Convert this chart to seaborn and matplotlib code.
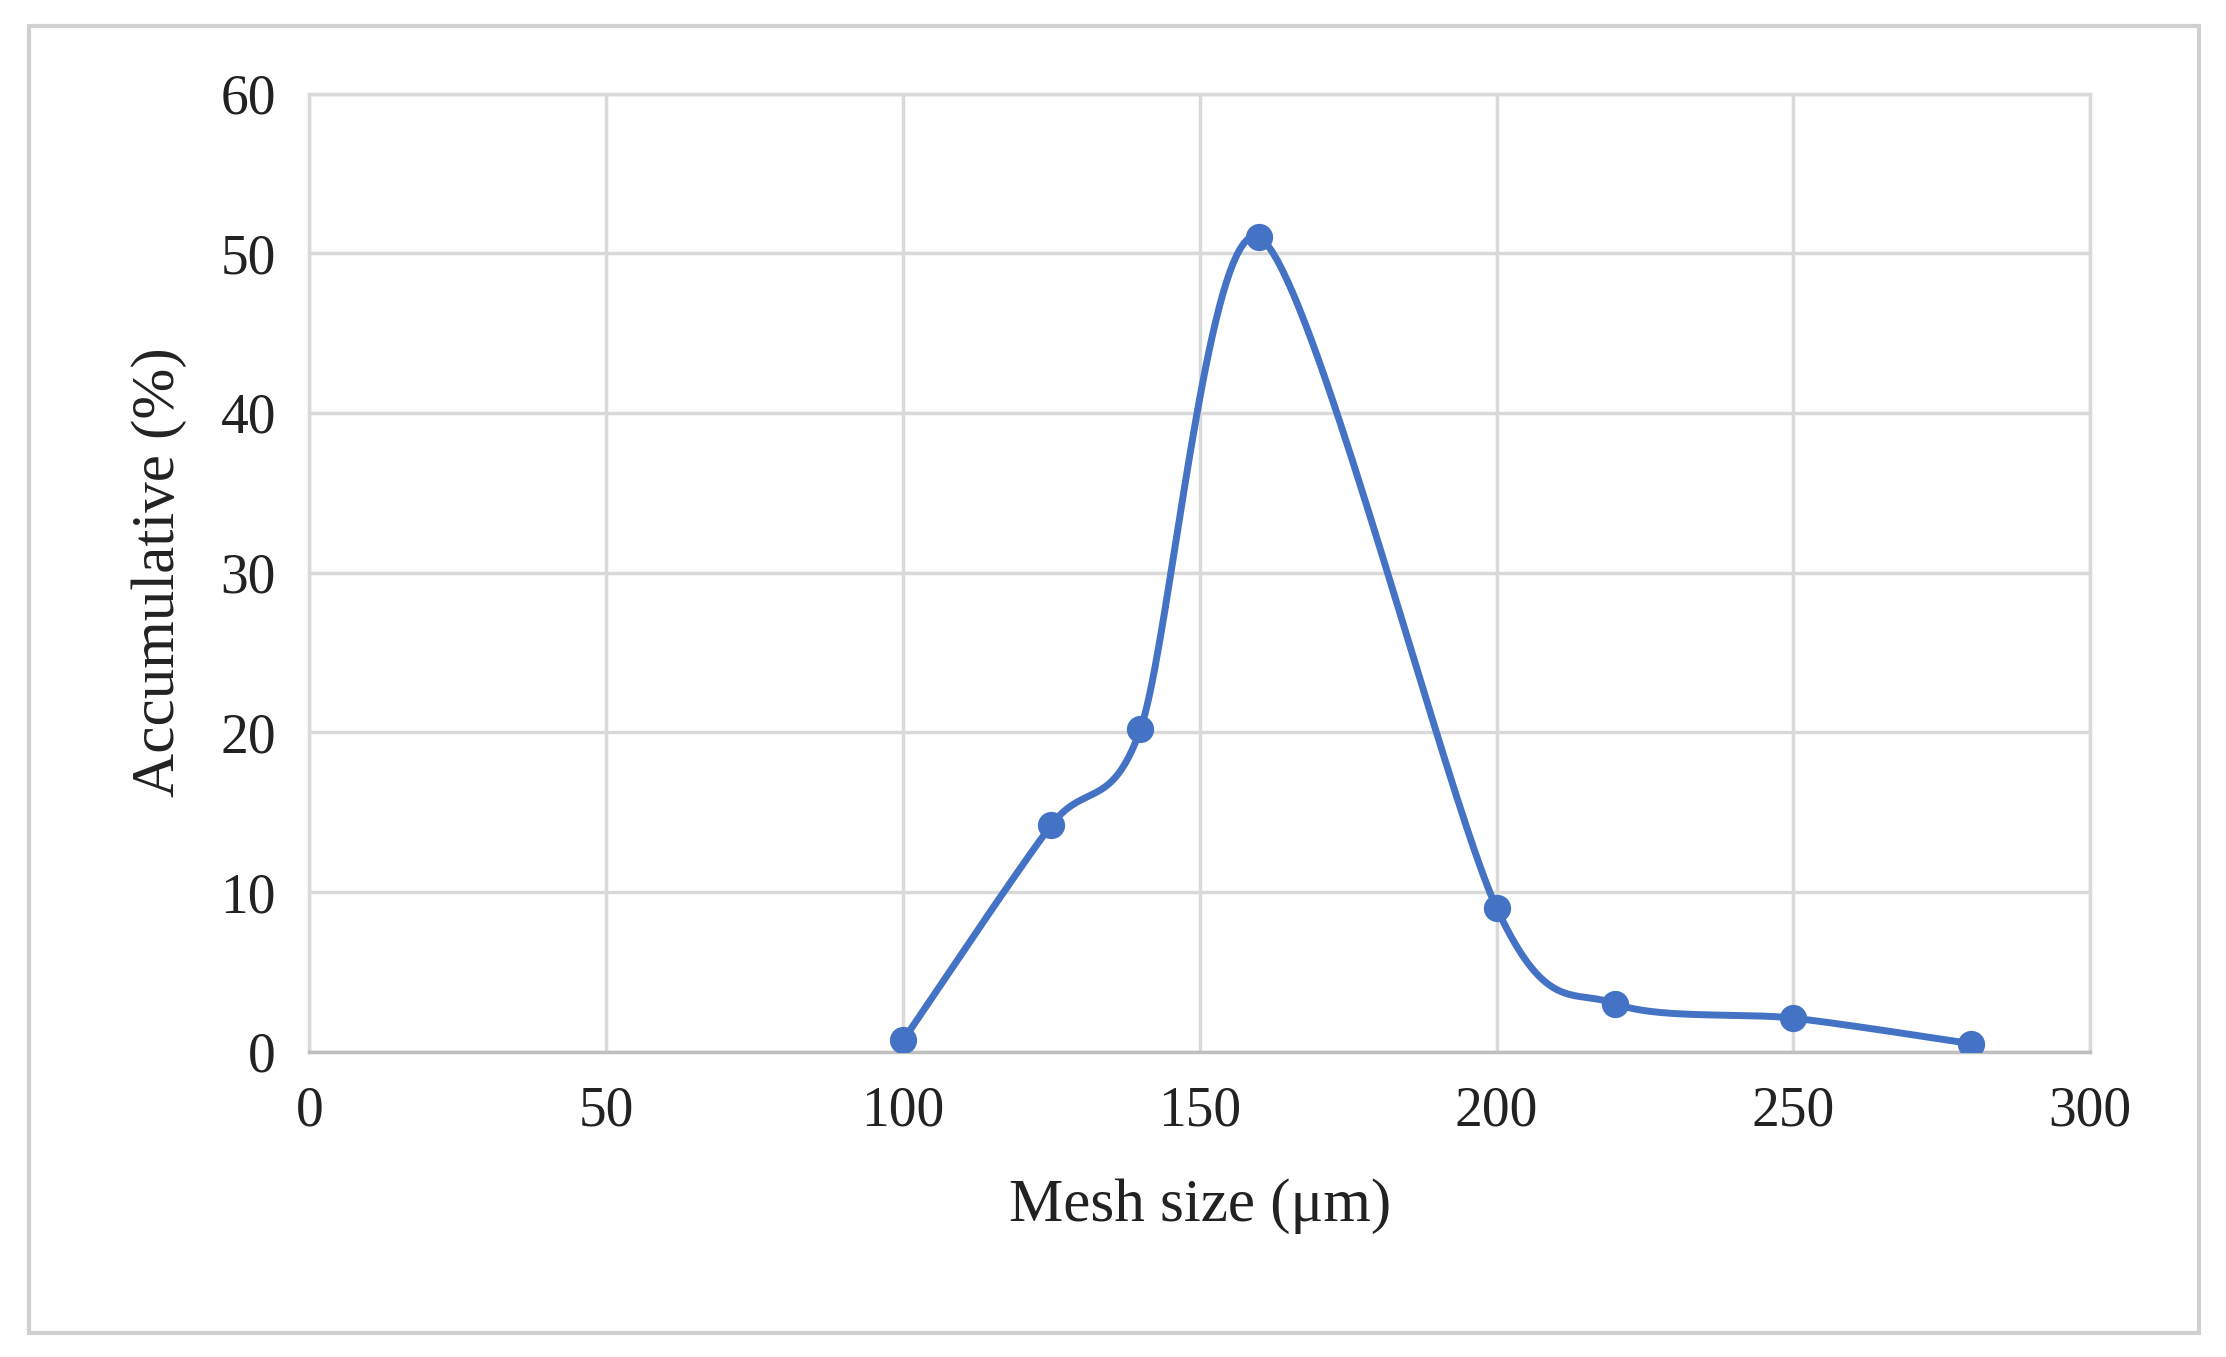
import numpy as np
import matplotlib
matplotlib.use("Agg")
import matplotlib.pyplot as plt
import seaborn as sns
from matplotlib.patches import Rectangle

mesh_size = [100, 125, 140, 160, 200, 220, 250, 280]
accumulative = [0.7, 14.2, 20.2, 51.0, 9.0, 3.0, 2.1, 0.5]
x_ticks = [0, 50, 100, 150, 200, 250, 300]
y_ticks = [0, 10, 20, 30, 40, 50, 60]

sns.set_theme(style="whitegrid")
plt.rcParams['font.family'] = ['Liberation Serif', 'DejaVu Serif']

def smooth(xs, ys, n=40, k=0.85):
    # parametric cubic Hermite rendering of the line (Excel-like smoothing)
    P = np.column_stack([xs, ys]).astype(float)
    P = np.vstack([P[0], P, P[-1]])
    out = []
    t = np.linspace(0, 1, n)[:, None]
    h00 = 2*t**3 - 3*t**2 + 1
    h10 = t**3 - 2*t**2 + t
    h01 = -2*t**3 + 3*t**2
    h11 = t**3 - t**2
    for i in range(1, len(P) - 2):
        p0, p1, p2, p3 = P[i-1], P[i], P[i+1], P[i+2]
        m1 = k * (p2 - p0) / 2
        m2 = k * (p3 - p1) / 2
        out.append(h00*p1 + h10*m1 + h01*p2 + h11*m2)
    S = np.vstack(out)
    return S[:, 0], S[:, 1]

fig = plt.figure(figsize=(22.26, 13.57), dpi=100)
fig.patches.append(Rectangle((0.013, 0.018), 0.975, 0.963, transform=fig.transFigure,
                             fill=False, edgecolor="#d0d0d0", linewidth=3))
ax = fig.add_axes([0.139, 0.225, 0.800, 0.706])
color = "#4472C4"
sx, sy = smooth(mesh_size, accumulative)
ax.plot(sx, sy, color=color, linewidth=5)
sns.scatterplot(x=mesh_size, y=accumulative, ax=ax, color=color, s=330, edgecolor=color, zorder=3)

ax.set_xlim(0, 300)
ax.set_ylim(0, 60)
ax.set_xticks(x_ticks)
ax.set_yticks(y_ticks)
ax.tick_params(labelsize=40, pad=18, colors="#222222")
ax.grid(True, color="#d9d9d9", linewidth=2.5)
for s in ["top", "right", "left"]:
    ax.spines[s].set_visible(True)
    ax.spines[s].set_color("#d9d9d9")
    ax.spines[s].set_linewidth(2.5)
ax.spines["bottom"].set_color("#bfbfbf")
ax.spines["bottom"].set_linewidth(2.5)
ax.set_xlabel("Mesh size (μm)", fontsize=44, labelpad=30, color="#222222")
ax.set_ylabel("Accumulative (%)", fontsize=44, labelpad=24, color="#222222")
fig.savefig("out.png", dpi=100, facecolor="white")
